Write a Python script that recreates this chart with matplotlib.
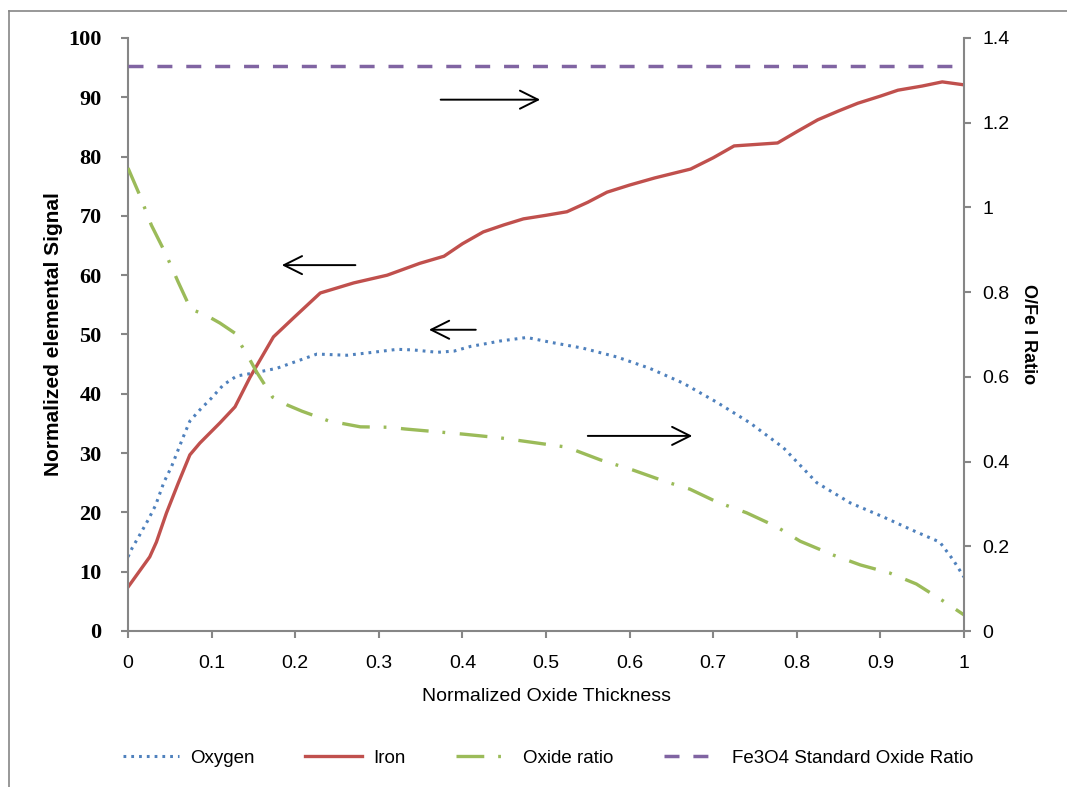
import numpy as np
import matplotlib
matplotlib.use('Agg')
import matplotlib.pyplot as plt
from matplotlib.lines import Line2D

plt.rcParams['font.family'] = ['Liberation Sans', 'DejaVu Sans']
plt.rcParams['lines.scale_dashes'] = False

# depth profile, x = normalized oxide thickness
oxy_x = [0, 0.005, 0.014, 0.024, 0.033, 0.043, 0.052, 0.059, 0.066, 0.074, 0.086,
         0.100, 0.114, 0.130, 0.150, 0.178, 0.206, 0.226, 0.262, 0.293, 0.322,
         0.341, 0.370, 0.390, 0.410, 0.430, 0.445, 0.477, 0.505, 0.544, 0.585,
         0.624, 0.664, 0.704, 0.744, 0.784, 0.824, 0.864, 0.904, 0.943, 0.971,
         0.987, 1.0]
oxy_y = [12.5, 14.0, 16.2, 18.7, 21.2, 25.1, 27.7, 30.2, 32.7, 35.4, 37.3,
         39.3, 41.5, 43.0, 43.5, 44.3, 45.7, 46.7, 46.5, 47.0, 47.5,
         47.4, 47.0, 47.2, 48.0, 48.5, 48.9, 49.5, 48.7, 47.7, 46.2,
         44.3, 41.8, 38.6, 35.1, 30.9, 25.0, 21.6, 19.2, 16.7, 15.0,
         12.0, 9.1]

iron_x = [0, 0.026, 0.034, 0.046, 0.060, 0.074, 0.086, 0.110, 0.128, 0.146,
          0.174, 0.198, 0.230, 0.270, 0.310, 0.349, 0.378, 0.400, 0.425, 0.450,
          0.473, 0.500, 0.525, 0.550, 0.573, 0.600, 0.630, 0.673, 0.700, 0.725,
          0.777, 0.800, 0.825, 0.850, 0.873, 0.900, 0.921, 0.950, 0.974, 1.0]
iron_y = [7.4, 12.5, 15.0, 19.9, 24.9, 29.7, 31.7, 35.1, 37.8, 42.8,
          49.6, 52.8, 57.0, 58.7, 60.0, 62.0, 63.2, 65.3, 67.3, 68.5,
          69.5, 70.1, 70.7, 72.3, 74.0, 75.2, 76.4, 77.9, 79.8, 81.8,
          82.3, 84.2, 86.2, 87.7, 89.0, 90.2, 91.2, 91.9, 92.6, 92.1]

ratio_x = [0, 0.014, 0.028, 0.044, 0.052, 0.060, 0.075, 0.093, 0.110, 0.128,
           0.134, 0.144, 0.154, 0.173, 0.190, 0.208, 0.240, 0.278, 0.313, 0.331,
           0.400, 0.445, 0.525, 0.565, 0.604, 0.644, 0.672, 0.704, 0.740, 0.776,
           0.804, 0.844, 0.876, 0.911, 0.943, 0.975, 1.0]
ratio_y = [1.093, 1.029, 0.958, 0.895, 0.860, 0.824, 0.760, 0.746, 0.727, 0.703,
           0.680, 0.647, 0.611, 0.552, 0.534, 0.519, 0.496, 0.482, 0.481, 0.477,
           0.465, 0.456, 0.434, 0.404, 0.380, 0.352, 0.335, 0.305, 0.279, 0.246,
           0.212, 0.179, 0.156, 0.137, 0.111, 0.071, 0.038]

fe3o4_ratio = 4.0 / 3.0

x_ticks = [0, 0.1, 0.2, 0.3, 0.4, 0.5, 0.6, 0.7, 0.8, 0.9, 1]
x_labels = ['0', '0.1', '0.2', '0.3', '0.4', '0.5', '0.6', '0.7', '0.8', '0.9', '1']
left_ticks = [0, 10, 20, 30, 40, 50, 60, 70, 80, 90, 100]
right_ticks = [0, 0.2, 0.4, 0.6, 0.8, 1.0, 1.2, 1.4]
right_labels = ['0', '0.2', '0.4', '0.6', '0.8', '1', '1.2', '1.4']

blue = '#4F81BD'
red = '#C0504D'
green = '#9BBB59'
purple = '#8064A2'
grey = '#868686'

W, H = 1067, 787
fig = plt.figure(figsize=(W / 100, H / 100), dpi=100)
ax = fig.add_axes([128 / W, 1 - 631 / H, (964 - 128) / W, (631 - 38) / H])
ax2 = ax.twinx()

l_oxy, = ax.plot(oxy_x, oxy_y, color=blue, lw=2.2, dashes=(2.0, 3.6),
                 dash_capstyle='butt', solid_capstyle='butt')
l_iron, = ax.plot(iron_x, iron_y, color=red, lw=2.4, solid_joinstyle='round')
l_ratio, = ax2.plot(ratio_x, ratio_y, color=green, lw=2.4,
                    dashes=(20, 10, 2, 10.5), dash_capstyle='butt')
l_std, = ax2.plot([0, 1], [fe3o4_ratio, fe3o4_ratio], color=purple, lw=2.5,
                  dashes=(10.8, 10), dash_capstyle='butt')

ax.set_xlim(0, 1)
ax.set_ylim(0, 100)
ax2.set_ylim(0, 1.4)

ax.set_xticks(x_ticks)
ax.set_xticklabels(x_labels, fontsize=14)
ax.set_yticks(left_ticks)
ax.set_yticklabels([str(v) for v in left_ticks], fontsize=16, fontweight='bold',
                   family=['Liberation Serif', 'DejaVu Serif'])
ax2.set_yticks(right_ticks)
ax2.set_yticklabels(right_labels, fontsize=14)

for a in (ax, ax2):
    a.spines['top'].set_visible(False)
    for s in ('left', 'right', 'bottom'):
        a.spines[s].set_color(grey)
        a.spines[s].set_linewidth(1.5)
    a.tick_params(direction='out', length=5, width=1.5, color=grey, pad=8)
ax.tick_params(axis='x', pad=12)
ax.tick_params(axis='y', pad=14)
ax2.spines['left'].set_visible(False)
ax2.spines['bottom'].set_visible(False)
ax.spines['right'].set_visible(False)

ax.set_xlabel('Normalized Oxide Thickness', fontsize=14, labelpad=12)
ax.set_ylabel('Normalized elemental Signal', fontsize=15, fontweight='bold', labelpad=4)
ax2.set_ylabel('O/Fe I Ratio', fontsize=13, fontweight='bold', rotation=-90,
               labelpad=20)

# direction arrows pointing to the axis each curve belongs to
arrows = [((0.374, 89.6), (0.493, 89.6)),
          ((0.272, 61.7), (0.184, 61.7)),
          ((0.416, 50.8), (0.360, 50.8)),
          ((0.550, 32.9), (0.675, 32.9))]
for start, end in arrows:
    ax.annotate('', xy=end, xytext=start,
                arrowprops=dict(arrowstyle='->, head_length=1.0, head_width=0.5',
                                mutation_scale=13, color='black', lw=1.4,
                                shrinkA=0, shrinkB=0))

fig.legend([l_oxy, l_iron, l_ratio, l_std],
           ['Oxygen', 'Iron', 'Oxide ratio', 'Fe3O4 Standard Oxide Ratio'],
           loc='center', bbox_to_anchor=(548 / W, 1 - 758 / H), ncol=4,
           frameon=False, fontsize=13.5, handlelength=3.0, columnspacing=2.7,
           handletextpad=0.6)

# chart frame edges
fig.add_artist(Line2D([9 / W, 1], [1 - 11 / H, 1 - 11 / H], color=grey, lw=1.2))
fig.add_artist(Line2D([9 / W, 9 / W], [1 - 11 / H, 0], color=grey, lw=1.2))

fig.savefig('out.png', dpi=100)
